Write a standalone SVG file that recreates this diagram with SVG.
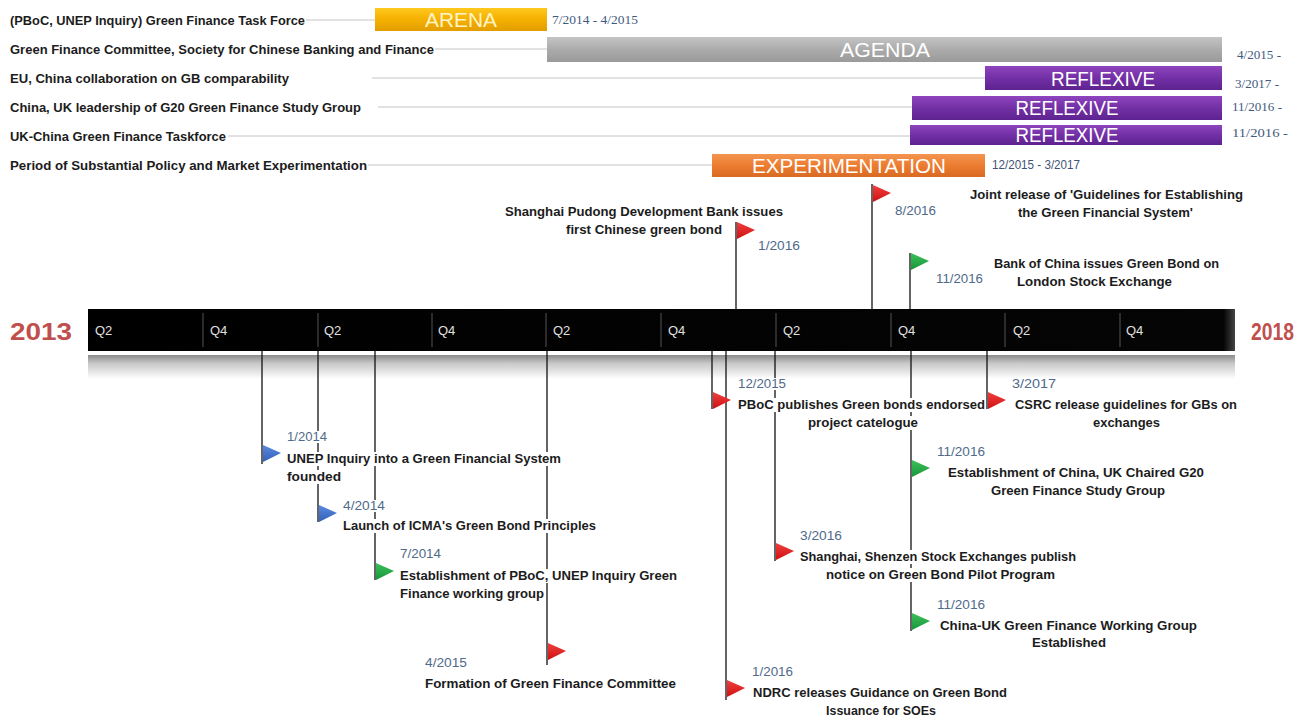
<svg xmlns="http://www.w3.org/2000/svg" width="1304" height="720" viewBox="0 0 1304 720">
<defs>
<linearGradient id="gYel" x1="0" y1="0" x2="0" y2="1"><stop offset="0" stop-color="#FFC81E"/><stop offset="0.5" stop-color="#F5B000"/><stop offset="1" stop-color="#E29E00"/></linearGradient>
<linearGradient id="gGray" x1="0" y1="0" x2="0" y2="1"><stop offset="0" stop-color="#C4C4C4"/><stop offset="0.5" stop-color="#ABABAB"/><stop offset="1" stop-color="#9A9A9A"/></linearGradient>
<linearGradient id="gPur" x1="0" y1="0" x2="0" y2="1"><stop offset="0" stop-color="#8E44BE"/><stop offset="0.5" stop-color="#7330A6"/><stop offset="1" stop-color="#5E2390"/></linearGradient>
<linearGradient id="gOra" x1="0" y1="0" x2="0" y2="1"><stop offset="0" stop-color="#F39550"/><stop offset="0.5" stop-color="#EC7C30"/><stop offset="1" stop-color="#D96A22"/></linearGradient>
<linearGradient id="gBar" x1="0" y1="0" x2="1" y2="0"><stop offset="0" stop-color="#000"/><stop offset="0.99" stop-color="#050505"/><stop offset="1" stop-color="#444"/></linearGradient>
<linearGradient id="gShadow" x1="0" y1="0" x2="0" y2="1"><stop offset="0" stop-color="#8a8a8a"/><stop offset="0.35" stop-color="#c8c8c8"/><stop offset="1" stop-color="#ffffff"/></linearGradient>
<linearGradient id="gRed" x1="0" y1="0" x2="0" y2="1"><stop offset="0" stop-color="#F04040"/><stop offset="1" stop-color="#D01010"/></linearGradient>
<linearGradient id="gGrn" x1="0" y1="0" x2="0" y2="1"><stop offset="0" stop-color="#3CC05A"/><stop offset="1" stop-color="#18963A"/></linearGradient>
<linearGradient id="gBlu" x1="0" y1="0" x2="0" y2="1"><stop offset="0" stop-color="#5A8AE0"/><stop offset="1" stop-color="#3560B8"/></linearGradient>
</defs>
<style>
.lbl{font-family:"Liberation Sans Narrow","Liberation Sans",Arial,sans-serif;font-weight:bold;font-size:13px;fill:#1c1c1c}
.dt{font-family:"Liberation Sans Narrow","Liberation Sans",Arial,sans-serif;font-size:12px;fill:#4f6a8a}
.dts{font-family:"Liberation Serif","Times New Roman",serif;font-size:11.5px;fill:#3f5a7e}
.bartx{font-family:"Liberation Sans Narrow","Liberation Sans",Arial,sans-serif;font-size:20px;fill:#ffffff}
.q{font-family:"Liberation Sans Narrow","Liberation Sans",Arial,sans-serif;font-size:13px;fill:#e0e0e0}
.yr{font-family:"Liberation Sans Narrow","Liberation Sans",Arial,sans-serif;font-weight:bold;font-size:24px;fill:#C0504D}
.row{stroke:#c4c4c4;stroke-width:1}
.pole{stroke:#111;stroke-width:1.3}
.div{stroke:#555;stroke-width:1}
.bg{fill:#ffffff}
</style>

<!-- Top Gantt rows -->
<g id="row-arena">
<line class="row" x1="306" y1="20" x2="375" y2="20"/>
<text class="lbl" x="10" y="25" textLength="295" lengthAdjust="spacingAndGlyphs">(PBoC, UNEP Inquiry) Green Finance Task Force</text>
<rect x="375" y="8" width="172" height="23" fill="url(#gYel)"/>
<text class="bartx" x="461" y="27" text-anchor="middle" style="fill:#FFF4C8" textLength="72" lengthAdjust="spacingAndGlyphs">ARENA</text>
<text class="dts" x="552" y="24" textLength="86" lengthAdjust="spacingAndGlyphs">7/2014  - 4/2015</text>
</g>
<g id="row-agenda">
<line class="row" x1="435" y1="49" x2="547" y2="49"/>
<text class="lbl" x="10" y="54" textLength="424" lengthAdjust="spacingAndGlyphs">Green Finance Committee, Society for Chinese Banking and Finance</text>
<rect x="547" y="37" width="675" height="25" fill="url(#gGray)"/>
<text class="bartx" x="885" y="57" text-anchor="middle" textLength="90" lengthAdjust="spacingAndGlyphs">AGENDA</text>
<text class="dts" x="1237" y="59" textLength="44" lengthAdjust="spacingAndGlyphs">4/2015  -</text>
</g>
<g id="row-eu">
<line class="row" x1="372" y1="78" x2="985" y2="78"/>
<text class="lbl" x="10" y="83" textLength="279" lengthAdjust="spacingAndGlyphs">EU, China collaboration on GB comparability</text>
<rect x="985" y="66" width="237" height="24" fill="url(#gPur)"/>
<text class="bartx" x="1103" y="86" text-anchor="middle" textLength="104" lengthAdjust="spacingAndGlyphs">REFLEXIVE</text>
<text class="dts" x="1235" y="88" textLength="44" lengthAdjust="spacingAndGlyphs">3/2017  -</text>
</g>
<g id="row-g20">
<line class="row" x1="378" y1="107" x2="912" y2="107"/>
<text class="lbl" x="10" y="112" textLength="351" lengthAdjust="spacingAndGlyphs">China, UK leadership of G20 Green Finance Study Group</text>
<rect x="912" y="96" width="310" height="24" fill="url(#gPur)"/>
<text class="bartx" x="1067" y="115" text-anchor="middle" textLength="103" lengthAdjust="spacingAndGlyphs">REFLEXIVE</text>
<text class="dts" x="1232" y="111" textLength="50" lengthAdjust="spacingAndGlyphs">11/2016  -</text>
</g>
<g id="row-ukchina">
<line class="row" x1="228" y1="136" x2="910" y2="136"/>
<text class="lbl" x="10" y="141" textLength="216" lengthAdjust="spacingAndGlyphs">UK-China Green Finance Taskforce</text>
<rect x="910" y="125" width="312" height="20" fill="url(#gPur)"/>
<text class="bartx" x="1067" y="142" text-anchor="middle" textLength="103" lengthAdjust="spacingAndGlyphs">REFLEXIVE</text>
<text class="dts" x="1232" y="137" textLength="56" lengthAdjust="spacingAndGlyphs">11/2016  -</text>
</g>
<g id="row-exp">
<line class="row" x1="368" y1="165" x2="712" y2="165"/>
<text class="lbl" x="10" y="170" textLength="357" lengthAdjust="spacingAndGlyphs">Period of Substantial Policy and Market Experimentation</text>
<rect x="712" y="154" width="273" height="23" fill="url(#gOra)"/>
<text class="bartx" x="849" y="173" text-anchor="middle" textLength="194" lengthAdjust="spacingAndGlyphs">EXPERIMENTATION</text>
<text class="dt" x="992" y="169" textLength="88" lengthAdjust="spacingAndGlyphs" style="fill:#3f5472;font-size:13px">12/2015 - 3/2017</text>
</g>

<!-- Timeline -->
<g id="timeline">
<rect x="88" y="355" width="1147" height="24" fill="url(#gShadow)"/>
<rect x="88" y="309" width="1147" height="42" fill="url(#gBar)"/>
<line class="div" x1="203" y1="313" x2="203" y2="347"/>
<line class="div" x1="318" y1="313" x2="318" y2="347"/>
<line class="div" x1="432" y1="313" x2="432" y2="347"/>
<line class="div" x1="546" y1="313" x2="546" y2="347"/>
<line class="div" x1="661" y1="313" x2="661" y2="347"/>
<line class="div" x1="776" y1="313" x2="776" y2="347"/>
<line class="div" x1="891" y1="313" x2="891" y2="347"/>
<line class="div" x1="1005" y1="313" x2="1005" y2="347"/>
<line class="div" x1="1120" y1="313" x2="1120" y2="347"/>
<text class="q" x="95" y="335">Q2</text>
<text class="q" x="210" y="335">Q4</text>
<text class="q" x="324" y="335">Q2</text>
<text class="q" x="438" y="335">Q4</text>
<text class="q" x="553" y="335">Q2</text>
<text class="q" x="668" y="335">Q4</text>
<text class="q" x="783" y="335">Q2</text>
<text class="q" x="898" y="335">Q4</text>
<text class="q" x="1013" y="335">Q2</text>
<text class="q" x="1126" y="335">Q4</text>
<text class="yr" x="10" y="340" textLength="62" lengthAdjust="spacingAndGlyphs">2013</text>
<text class="yr" x="1251" y="340" textLength="43" lengthAdjust="spacingAndGlyphs">2018</text>
</g>

<!-- Connectors (flag poles) -->
<g id="connectors">
<line class="pole" x1="736" y1="222" x2="736" y2="309"/>
<line class="pole" x1="872" y1="184" x2="872" y2="309"/>
<line class="pole" x1="910" y1="253" x2="910" y2="309"/>
<line class="pole" x1="262" y1="351" x2="262" y2="464"/>
<line class="pole" x1="318" y1="351" x2="318" y2="522"/>
<line class="pole" x1="375" y1="351" x2="375" y2="580"/>
<line class="pole" x1="547" y1="351" x2="547" y2="665"/>
<line class="pole" x1="712" y1="351" x2="712" y2="409"/>
<line class="pole" x1="726" y1="351" x2="726" y2="700"/>
<line class="pole" x1="775" y1="351" x2="775" y2="561"/>
<line class="pole" x1="911" y1="351" x2="911" y2="631"/>
<line class="pole" x1="987" y1="351" x2="987" y2="409"/>
</g>

<!-- Events above -->
<g id="ev-spdb">
<polygon points="737,222 755,230 737,239" fill="url(#gRed)"/>
<text class="lbl" x="505" y="216" textLength="278" lengthAdjust="spacingAndGlyphs">Shanghai Pudong Development Bank issues</text>
<text class="lbl" x="566" y="234" textLength="156" lengthAdjust="spacingAndGlyphs">first Chinese green bond</text>
<text class="dt" x="758" y="250" textLength="42" lengthAdjust="spacingAndGlyphs">1/2016</text>
</g>
<g id="ev-guidelines">
<polygon points="873,185 891,193 873,202" fill="url(#gRed)"/>
<text class="dt" x="895" y="215" textLength="41" lengthAdjust="spacingAndGlyphs">8/2016</text>
<text class="lbl" x="970" y="199" textLength="273" lengthAdjust="spacingAndGlyphs">Joint release of 'Guidelines for Establishing</text>
<text class="lbl" x="1018" y="217" textLength="175" lengthAdjust="spacingAndGlyphs">the Green Financial System'</text>
</g>
<g id="ev-boc">
<polygon points="911,253 929,261 911,270" fill="url(#gGrn)"/>
<text class="dt" x="936" y="283" textLength="47" lengthAdjust="spacingAndGlyphs">11/2016</text>
<text class="lbl" x="994" y="268" textLength="225" lengthAdjust="spacingAndGlyphs">Bank of China issues Green Bond on</text>
<text class="lbl" x="1017" y="286" textLength="155" lengthAdjust="spacingAndGlyphs">London Stock Exchange</text>
</g>

<!-- Events below -->
<g id="ev-unep">
<rect class="bg" x="286" y="431" width="42" height="12"/>
<rect class="bg" x="286" y="452" width="276" height="14"/>
<rect class="bg" x="286" y="470" width="56" height="14"/>
<polygon points="263,445 281,453 263,462" fill="url(#gBlu)"/>
<text class="dt" x="287" y="441" textLength="40" lengthAdjust="spacingAndGlyphs">1/2014</text>
<text class="lbl" x="287" y="463" textLength="274" lengthAdjust="spacingAndGlyphs">UNEP Inquiry into a Green Financial System</text>
<text class="lbl" x="287" y="481" textLength="54" lengthAdjust="spacingAndGlyphs">founded</text>
</g>
<g id="ev-gbp">
<rect class="bg" x="342" y="500" width="44" height="12"/>
<rect class="bg" x="342" y="519" width="255" height="14"/>
<polygon points="319,505 337,513 319,522" fill="url(#gBlu)"/>
<text class="dt" x="343" y="510" textLength="42" lengthAdjust="spacingAndGlyphs">4/2014</text>
<text class="lbl" x="343" y="530" textLength="253" lengthAdjust="spacingAndGlyphs">Launch of ICMA's Green Bond Principles</text>
</g>
<g id="ev-pboc-unep">
<rect class="bg" x="399" y="548" width="43" height="12"/>
<rect class="bg" x="399" y="569" width="279" height="14"/>
<rect class="bg" x="399" y="587" width="146" height="14"/>
<polygon points="376,563 394,571 376,580" fill="url(#gGrn)"/>
<text class="dt" x="400" y="558" textLength="41" lengthAdjust="spacingAndGlyphs">7/2014</text>
<text class="lbl" x="400" y="580" textLength="277" lengthAdjust="spacingAndGlyphs">Establishment of PBoC, UNEP Inquiry Green</text>
<text class="lbl" x="400" y="598" textLength="144" lengthAdjust="spacingAndGlyphs">Finance working group</text>
</g>
<g id="ev-gfc">
<polygon points="548,643 566,651 548,660" fill="url(#gRed)"/>
<text class="dt" x="425" y="667" textLength="42" lengthAdjust="spacingAndGlyphs">4/2015</text>
<text class="lbl" x="425" y="688" textLength="251" lengthAdjust="spacingAndGlyphs">Formation of Green Finance Committee</text>
</g>
<g id="ev-catalogue">
<rect class="bg" x="737" y="378" width="50" height="12"/>
<rect class="bg" x="737" y="398" width="249" height="14"/>
<rect class="bg" x="807" y="416" width="112" height="14"/>
<polygon points="713,392 731,400 713,409" fill="url(#gRed)"/>
<text class="dt" x="738" y="388" textLength="48" lengthAdjust="spacingAndGlyphs">12/2015</text>
<text class="lbl" x="738" y="409" textLength="247" lengthAdjust="spacingAndGlyphs">PBoC publishes Green bonds endorsed</text>
<text class="lbl" x="808" y="427" textLength="110" lengthAdjust="spacingAndGlyphs">project catelogue</text>
</g>
<g id="ev-ndrc">
<polygon points="727,680 745,688 727,697" fill="url(#gRed)"/>
<text class="dt" x="752" y="676" textLength="41" lengthAdjust="spacingAndGlyphs">1/2016</text>
<text class="lbl" x="753" y="697" textLength="254" lengthAdjust="spacingAndGlyphs">NDRC releases Guidance on Green Bond</text>
<text class="lbl" x="826" y="715" textLength="110" lengthAdjust="spacingAndGlyphs">Issuance for SOEs</text>
</g>
<g id="ev-exchanges">
<rect class="bg" x="799" y="530" width="44" height="12"/>
<rect class="bg" x="799" y="550" width="278" height="14"/>
<rect class="bg" x="825" y="568" width="231" height="14"/>
<polygon points="776,543 794,551 776,560" fill="url(#gRed)"/>
<text class="dt" x="800" y="540" textLength="42" lengthAdjust="spacingAndGlyphs">3/2016</text>
<text class="lbl" x="800" y="561" textLength="276" lengthAdjust="spacingAndGlyphs">Shanghai, Shenzen Stock Exchanges publish</text>
<text class="lbl" x="826" y="579" textLength="229" lengthAdjust="spacingAndGlyphs">notice on Green Bond Pilot Program</text>
</g>
<g id="ev-g20study">
<polygon points="912,460 930,468 912,477" fill="url(#gGrn)"/>
<text class="dt" x="937" y="456" textLength="48" lengthAdjust="spacingAndGlyphs">11/2016</text>
<text class="lbl" x="948" y="477" textLength="256" lengthAdjust="spacingAndGlyphs">Establishment of China, UK Chaired G20</text>
<text class="lbl" x="991" y="495" textLength="174" lengthAdjust="spacingAndGlyphs">Green Finance Study Group</text>
</g>
<g id="ev-wg">
<polygon points="912,613 930,621 912,630" fill="url(#gGrn)"/>
<text class="dt" x="937" y="609" textLength="48" lengthAdjust="spacingAndGlyphs">11/2016</text>
<text class="lbl" x="940" y="630" textLength="257" lengthAdjust="spacingAndGlyphs">China-UK Green Finance Working Group</text>
<text class="lbl" x="1032" y="647" textLength="74" lengthAdjust="spacingAndGlyphs">Established</text>
</g>
<g id="ev-csrc">
<polygon points="988,392 1006,400 988,409" fill="url(#gRed)"/>
<text class="dt" x="1012" y="388" textLength="44" lengthAdjust="spacingAndGlyphs">3/2017</text>
<text class="lbl" x="1015" y="409" textLength="222" lengthAdjust="spacingAndGlyphs">CSRC release guidelines for GBs on</text>
<text class="lbl" x="1093" y="427" textLength="67" lengthAdjust="spacingAndGlyphs">exchanges</text>
</g>
</svg>
